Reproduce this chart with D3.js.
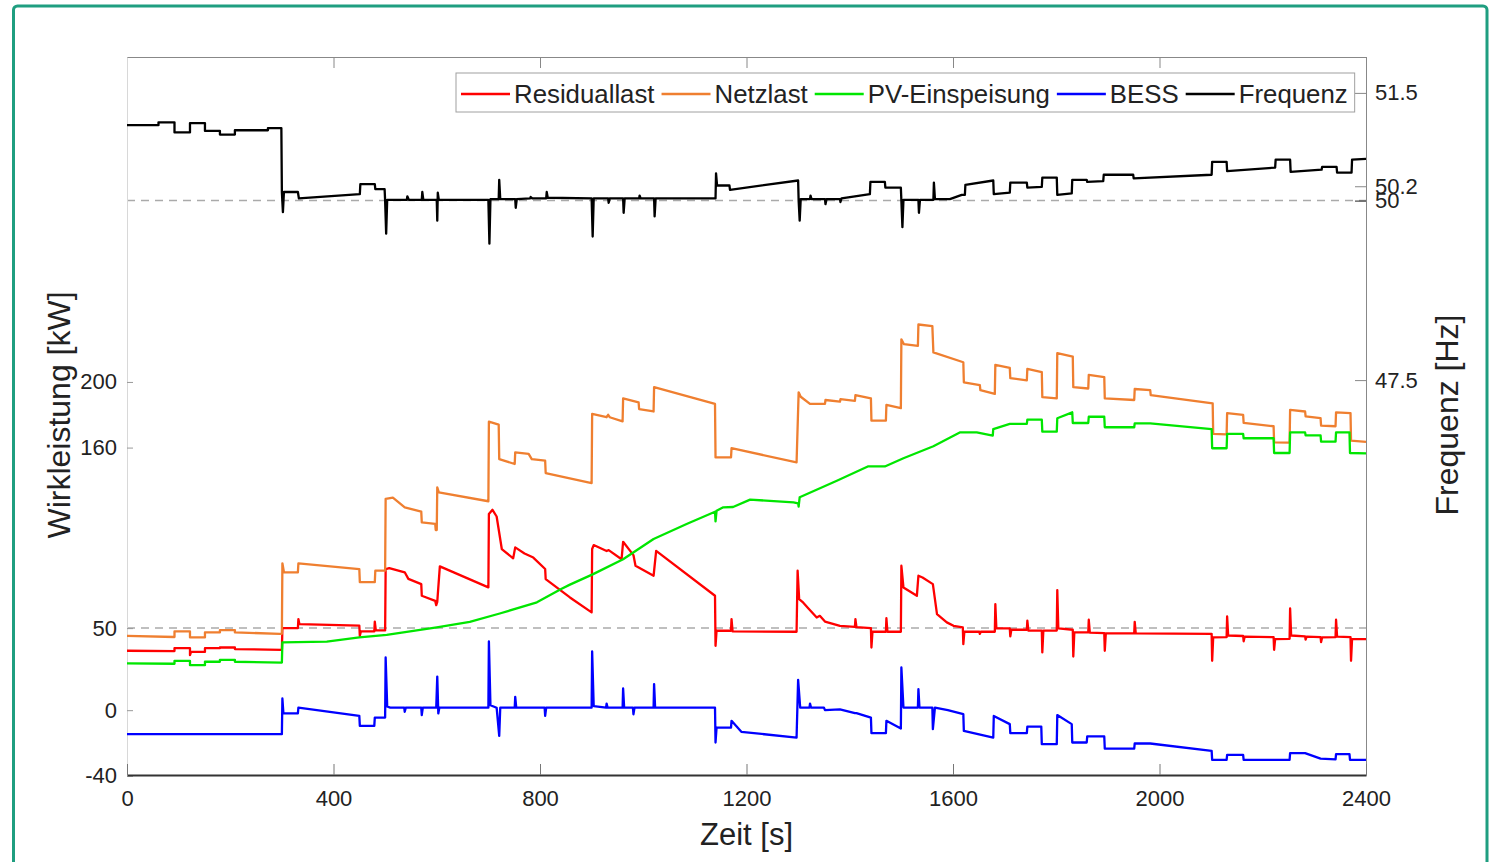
<!DOCTYPE html>
<html>
<head>
<meta charset="utf-8">
<script src="https://cdn.jsdelivr.net/npm/d3@7"></script>
<style>
  body { margin: 0; background: #fff; }
  svg { display: block; }
  text { font-family: "Liberation Sans", Arial, Helvetica, sans-serif; fill: #222; }
</style>
</head>
<body>
<svg id="chart" width="1499" height="862"></svg>
<script>
// ---- Data: time [s] / value pairs ----
const timeTicks  = [0, 400, 800, 1200, 1600, 2000, 2400];
const powerTicks = [-40, 0, 50, 160, 200];
const freqTicks  = [47.5, 50, 50.2, 51.5];

const seriesNames  = ["Residuallast", "Netzlast", "PV-Einspeisung", "BESS", "Frequenz"];
const seriesColors = ["#ff0000", "#ef7f30", "#00e600", "#0000ff", "#000000"];

// Residuallast [kW]
const residuallast = [
  [0,36.2],[92,36],[92,37.8],[122,37.8],[122,33.5],[124,35.5],[151,35.5],[151,37.8],[180,37.8],[180,38.2],[209,38.2],[209,37.2],[300,36.8],
  [301,50],[331,50],[332,55.5],[334,52.4],[450,51.5],[451,45.3],[453,48],[479,48],[480,54],[482,48.6],[500,48.6],
  [501,86],[508,86.6],[538,84],[545,80],[570,76.8],[571,69.7],[597,66.6],[599,64],[601,66],[606,87.6],[700,74.8],
  [701,119.5],[708,122.1],[716,118],[726,98.2],[748,92.5],[752,99.2],[770,95.5],[787,93],[810,86],[811,79.9],[858,68.7],[900,59.6],
  [901,98.2],[904,100.6],[929,97],[933,97.5],[958,92],[961,102.6],[981,94.5],[985,88],[1020,81.9],[1025,97.1],[1139,69.7],
  [1140,39.2],[1142,48.4],[1170,48.4],[1171,55.5],[1173,48],[1297,47.8],[1299,85],[1302,67.7],[1310,65.5],[1320,62],[1336,56.5],[1342,57.5],[1352,54],
  [1381,51.4],[1410,50.8],[1411,55.5],[1413,50.6],[1441,50],[1442,38.2],[1444,47.8],[1470,47.8],[1471,56],[1473,47.8],[1499,47.8],
  [1500,88],[1504,74.8],[1530,69.7],[1533,81.9],[1541,80.8],[1561,76.8],[1569,58.5],[1588,53.5],[1601,51.4],[1619,50.4],[1620,40.2],[1622,47.8],
  [1651,47.8],[1652,46.5],[1654,47.8],[1681,47.8],[1682,64.6],[1684,49.8],[1710,49.8],[1711,45],[1713,49],[1743,49],[1744,54.5],[1746,48.5],
  [1772,48.5],[1773,35.2],[1775,48.5],[1801,48.5],[1802,73.2],[1804,49.8],[1832,49],[1833,32.7],[1835,47.4],[1862,47.4],[1863,55.1],[1865,47.2],
  [1893,47],[1894,36.2],[1896,46.8],[1951,46.8],[1952,53.8],[1954,46.8],[2101,46.5],[2102,30.1],[2104,44.3],[2130,44.5],[2131,57.1],[2133,45.5],
  [2162,45.2],[2163,42],[2165,44.8],[2221,44.5],[2222,36.8],[2224,43.3],[2252,43.5],[2253,62],[2255,45.5],[2282,45],[2283,43],[2285,44.8],
  [2312,44.5],[2313,41.5],[2315,44.3],[2341,44.5],[2342,55.1],[2344,44.8],[2370,44.5],[2371,30.1],[2373,43.3],[2400,43.3]
];

// Netzlast [kW]
const netzlast = [
  [0,45.3],[92,44.6],[92,48],[122,48],[122,44.3],[151,44.3],[151,47.4],[180,47.4],[180,48.8],[209,48.8],[209,47.4],[296,46.5],[300,46.5],
  [301,89.5],[304,84],[331,84],[332,89.5],[450,86],[451,78],[480,78],[481,85],[500,85],
  [501,128.7],[515,129.5],[538,123.6],[570,121],[571,114.4],[597,113.5],[598,109.8],[600,109.8],[601,135.8],[604,132.7],[700,127.3],
  [701,175.8],[720,174],[721,153],[751,150],[752,157.1],[778,156.2],[784,153],[810,152],[811,144.5],[900,138.4],
  [901,180.5],[929,178.5],[932,180],[935,178.5],[960,176],[961,190],[991,187.5],[992,183.5],[1020,182],[1021,196.8],[1139,186.6],
  [1140,154],[1170,154],[1171,159.6],[1297,151],
  [1301,193.7],[1305,191],[1323,186.6],[1352,186.6],[1353,189],[1381,188],[1382,189.5],[1410,188.5],[1411,192],[1441,190],[1442,176.4],[1470,176.4],[1471,186],[1499,184],
  [1500,226],[1505,223],[1532,222],[1533,235],[1560,234],[1562,218],[1620,212],[1621,199.8],[1652,198],[1653,195],[1681,192.7],[1682,210.4],
  [1710,208.5],[1711,202.3],[1743,201],[1744,208],[1772,206],[1773,190.7],[1801,190],[1802,217.5],[1832,215.5],[1833,196.8],[1862,196],
  [1863,204.3],[1893,203],[1894,190],[1951,189],[1952,195.7],[1982,195],[1983,192],[2103,187],[2104,168.3],[2130,168],[2131,181],[2162,180],
  [2163,175],[2221,173],[2222,163.2],[2252,163],[2253,183],[2282,182],[2283,179],[2312,178],[2313,173.4],[2341,173],[2342,181.5],[2370,181],
  [2371,164.2],[2400,163.5]
];

// PV-Einspeisung [kW]
const pvEinspeisung = [
  [0,28.5],[92,28.3],[92,30],[122,30],[122,27.4],[151,27.4],[151,29.5],[180,29.5],[180,30.7],[209,30.7],[209,29.5],[300,29],
  [301,41.3],[387,41.8],[450,44.3],[503,45.9],[600,50.4],[664,53.8],[722,58.9],[794,65.7],[841,73.8],[858,76.5],[903,82.9],[961,92],
  [1020,104.3],[1084,113.4],[1139,120.9],[1140,115],[1142,121.5],[1155,123.6],[1174,123.8],[1207,128.3],[1291,126.6],[1300,126],[1301,124],
  [1303,129.7],[1375,139.8],[1436,148.6],[1468,148.5],[1504,153.5],[1562,160.8],[1614,169.3],[1646,169.3],[1677,167.3],[1678,171.3],
  [1710,174.4],[1743,174.4],[1744,177],[1772,177],[1773,169.7],[1801,169.7],[1802,177.9],[1831,181.5],[1832,175],[1862,175],[1863,178.8],
  [1893,178.8],[1894,172.4],[1951,172.4],[1952,174.8],[1982,174.8],[2101,171.3],[2102,159.6],[2130,159.6],[2131,168.3],[2162,168.3],
  [2163,165.7],[2221,165.7],[2222,156.7],[2252,156.7],[2253,169.3],[2282,169.3],[2283,167.5],[2312,167.5],[2313,163.6],[2341,163.6],
  [2342,169.3],[2368,169.3],[2369,156.7],[2400,156.5]
];

// BESS [kW]
const bess = [
  [0,-14.6],[300,-14.6],[301,7.1],[303,-2],[331,-2],[332,1.6],[450,-3.5],[451,-9.6],[479,-9.6],[480,-4.5],[500,-4.5],
  [501,32.1],[504,2.3],[510,1.5],[537,1.5],[538,-1],[540,1.5],[570,1.5],[571,-3],[573,1.5],[599,1.5],[601,20.5],[603,-2],[605,1.5],
  [700,1.5],[701,41.9],[704,3],[716,1.5],[721,-15.7],[723,1.5],[751,1.5],[752,8.1],[754,1.5],[809,1.5],[810,-3.5],[812,1.5],
  [900,1.5],[901,35.8],[904,2.5],[928,1.5],[929,4],[931,1.5],[960,1.5],[961,13.2],[963,1.5],[980,1.5],[981,-2.5],[983,1.5],
  [1020,1.5],[1021,15.9],[1023,1.5],[1139,1.5],[1140,-19.7],[1142,-10.6],[1170,-10.6],[1171,-6.5],[1190,-13.2],[1297,-16.7],
  [1300,18.5],[1304,1.6],[1322,1.6],[1323,4],[1325,1.6],[1350,1.6],[1352,0],[1381,0.5],[1410,-1.8],[1413,-1.8],[1441,-4.5],
  [1442,-14],[1470,-14],[1471,-6.5],[1499,-11.2],[1500,26],[1504,1.6],[1532,1.6],[1533,12.8],[1535,1.6],[1560,1.6],[1561,-11.6],
  [1565,1.6],[1590,0],[1620,-2.4],[1621,-12.6],[1678,-16.7],[1679,-3.5],[1710,-8.5],[1711,-14],[1743,-14],[1744,-10],[1771,-10],
  [1772,-20.7],[1801,-20.7],[1802,-3],[1830,-8.5],[1831,-19.7],[1859,-19.7],[1860,-16],[1893,-16],[1894,-23.4],[1951,-23.4],
  [1952,-20.3],[1982,-20.3],[2101,-24.8],[2102,-30.3],[2130,-30.3],[2131,-27.2],[2162,-27.2],[2163,-30.3],[2252,-30.3],
  [2253,-26.2],[2282,-26.2],[2312,-29.5],[2341,-30],[2342,-26.8],[2368,-26.8],[2369,-30.3],[2400,-30.3]
];

// Frequenz [Hz]
const frequenz = [
  [0,51.05],[61,51.05],[61,51.09],[92,51.09],[92,50.95],[122,50.95],[122,51.08],[151,51.08],[151,50.97],[180,50.97],[180,50.92],
  [209,50.92],[209,50.98],[273,50.98],[273,51.01],[299,51.01],
  [300,50.12],[302,49.84],[304,50.12],[331,50.12],[333,50.03],[451,50.09],[452,50.23],[480,50.23],[481,50.16],[499,50.16],
  [500,50.0],[502,49.54],[504,50.01],[542,50.01],[543,50.06],[546,50.01],[571,50.01],[572,50.12],[574,50.01],[600,50.01],
  [601,49.72],[602,50.11],[604,50.01],[700,50.01],[702,49.4],[704,50.02],[720,50.02],[721,50.29],[723,50.02],[752,50.02],
  [753,49.9],[755,50.02],[781,50.03],[782,50.05],[785,50.03],[812,50.03],[813,50.12],[815,50.04],[900,50.03],[902,49.5],
  [904,50.03],[932,50.03],[933,49.97],[935,50.03],[961,50.03],[962,49.83],[964,50.03],[992,50.03],[993,50.07],[995,50.03],
  [1021,50.03],[1022,49.78],[1024,50.03],[1140,50.03],[1141,50.38],[1143,50.21],[1167,50.21],[1168,50.15],[1300,50.28],
  [1301,50.0],[1303,49.72],[1305,50.02],[1323,50.02],[1324,50.07],[1326,50.02],[1352,50.02],[1353,49.95],[1355,50.02],
  [1381,50.02],[1382,49.98],[1384,50.03],[1410,50.06],[1439,50.09],[1440,50.26],[1468,50.26],[1469,50.18],[1499,50.18],
  [1500,50.0],[1502,49.63],[1504,50.01],[1533,50.01],[1534,49.83],[1536,50.01],[1562,50.01],[1563,50.25],[1565,50.02],
  [1594,50.02],[1617,50.08],[1623,50.08],[1624,50.22],[1678,50.28],[1679,50.09],[1710,50.11],[1711,50.25],[1743,50.25],
  [1744,50.18],[1772,50.19],[1773,50.32],[1801,50.32],[1802,50.08],[1830,50.1],[1831,50.29],[1859,50.29],[1860,50.26],
  [1891,50.27],[1892,50.36],[1949,50.36],[1950,50.31],[2101,50.36],[2102,50.54],[2130,50.54],[2131,50.41],[2224,50.46],
  [2225,50.57],[2253,50.57],[2254,50.4],[2314,50.43],[2315,50.47],[2343,50.47],[2344,50.39],[2372,50.39],[2373,50.57],[2400,50.58]
];

const powerRef = 50;   // kW reference line
const freqRef  = 50;   // Hz nominal frequency

// ---- Layout ----
const svg = d3.select("#chart");
const plotLeft = 127, plotRight = 1366, plotTop = 57, plotBottom = 775;

const x  = d3.scaleLinear().domain([0, 2400]).range([plotLeft, plotRight]);
const yP = d3.scaleLinear().domain([-39.5, 398]).range([plotBottom, plotTop]);
const yF = d3.scaleLinear().domain([42, 52]).range([plotBottom, plotTop]);

// outer frame
svg.append("rect")
  .attr("x", 13.5).attr("y", 6).attr("width", 1473.5).attr("height", 900)
  .attr("rx", 4).attr("fill", "none").attr("stroke", "#1f9e80").attr("stroke-width", 3);

svg.append("defs").append("clipPath").attr("id", "plotClip")
  .append("rect").attr("x", plotLeft).attr("y", plotTop)
  .attr("width", plotRight - plotLeft).attr("height", plotBottom - plotTop);

// reference lines
svg.append("line")
  .attr("x1", plotLeft).attr("x2", plotRight).attr("y1", yP(powerRef)).attr("y2", yP(powerRef))
  .attr("stroke", "#aaaaaa").attr("stroke-width", 1.5).attr("stroke-dasharray", "8,6");
svg.append("line")
  .attr("x1", plotLeft).attr("x2", plotRight).attr("y1", yF(freqRef)).attr("y2", yF(freqRef))
  .attr("stroke", "#aaaaaa").attr("stroke-width", 1.5).attr("stroke-dasharray", "8,6");

// axes
const plainFormat = d => String(d);   // keeps an ASCII hyphen for negative values

function styleAxis(g, lineColor, tickColor) {
  g.select(".domain").attr("stroke", lineColor);
  g.selectAll(".tick line").attr("stroke", tickColor);
  g.selectAll(".tick text").attr("fill", "#222").style("font-size", "22px")
    .style("font-family", '"Liberation Sans", Arial, sans-serif');
}

const gTop = svg.append("g").attr("transform", `translate(0,${plotTop})`)
  .call(d3.axisTop(x).tickValues(timeTicks).tickSizeInner(-11).tickSizeOuter(0).tickFormat(""));
styleAxis(gTop, "#888", "#888");

const gLeft = svg.append("g").attr("transform", `translate(${plotLeft},0)`)
  .call(d3.axisLeft(yP).tickValues(powerTicks).tickSizeInner(-6).tickSizeOuter(0).tickPadding(10).tickFormat(plainFormat));
styleAxis(gLeft, "#d8d8d8", "#999");

const gRight = svg.append("g").attr("transform", `translate(${plotRight},0)`)
  .call(d3.axisRight(yF).tickValues(freqTicks).tickSizeInner(-11).tickSizeOuter(0).tickPadding(9).tickFormat(plainFormat));
styleAxis(gRight, "#888", "#888");
gRight.selectAll(".tick").filter(d => d === 50).select("line").attr("stroke", "#222");

const gBottom = svg.append("g").attr("transform", `translate(0,${plotBottom})`)
  .call(d3.axisBottom(x).tickValues(timeTicks).tickSizeInner(-11).tickSizeOuter(0).tickPadding(15).tickFormat(plainFormat));
styleAxis(gBottom, "#333", "#777");
gBottom.select(".domain").attr("stroke-width", 2);

// series
const lineP = d3.line().x(d => x(d[0])).y(d => yP(d[1]));
const lineF = d3.line().x(d => x(d[0])).y(d => yF(d[1]));
const plot = svg.append("g").attr("clip-path", "url(#plotClip)");

const powerSeries = [residuallast, netzlast, pvEinspeisung, bess];
powerSeries.forEach((s, i) => {
  plot.append("path").datum(s).attr("d", lineP)
    .attr("fill", "none").attr("stroke", seriesColors[i]).attr("stroke-width", 2.3)
    .attr("stroke-linejoin", "round");
});
plot.append("path").datum(frequenz).attr("d", lineF)
  .attr("fill", "none").attr("stroke", seriesColors[4]).attr("stroke-width", 2.3)
  .attr("stroke-linejoin", "round");

// axis titles
svg.append("text").attr("transform", "translate(70,415) rotate(-90)")
  .attr("text-anchor", "middle").style("font-size", "32px").text("Wirkleistung [kW]");
svg.append("text").attr("transform", "translate(1458,415) rotate(-90)")
  .attr("text-anchor", "middle").style("font-size", "32px").text("Frequenz [Hz]");
svg.append("text").attr("x", (plotLeft + plotRight) / 2).attr("y", 845)
  .attr("text-anchor", "middle").style("font-size", "31px").text("Zeit [s]");

// legend
const legend = svg.append("g");
const legBox = legend.append("rect")
  .attr("x", 456).attr("y", 73).attr("width", 895).attr("height", 39)
  .attr("fill", "#fff").attr("stroke", "#a0a0a0").attr("stroke-width", 1);
let lx = 461;
seriesNames.forEach((name, i) => {
  legend.append("line").attr("x1", lx).attr("x2", lx + 49).attr("y1", 94).attr("y2", 94)
    .attr("stroke", seriesColors[i]).attr("stroke-width", 2.5);
  const t = legend.append("text").attr("x", lx + 53).attr("y", 103)
    .style("font-size", "25.8px").text(name);
  lx += 53 + t.node().getComputedTextLength() + 7;
});
legBox.attr("width", Math.max(895, lx - 456));
</script>
</body>
</html>
